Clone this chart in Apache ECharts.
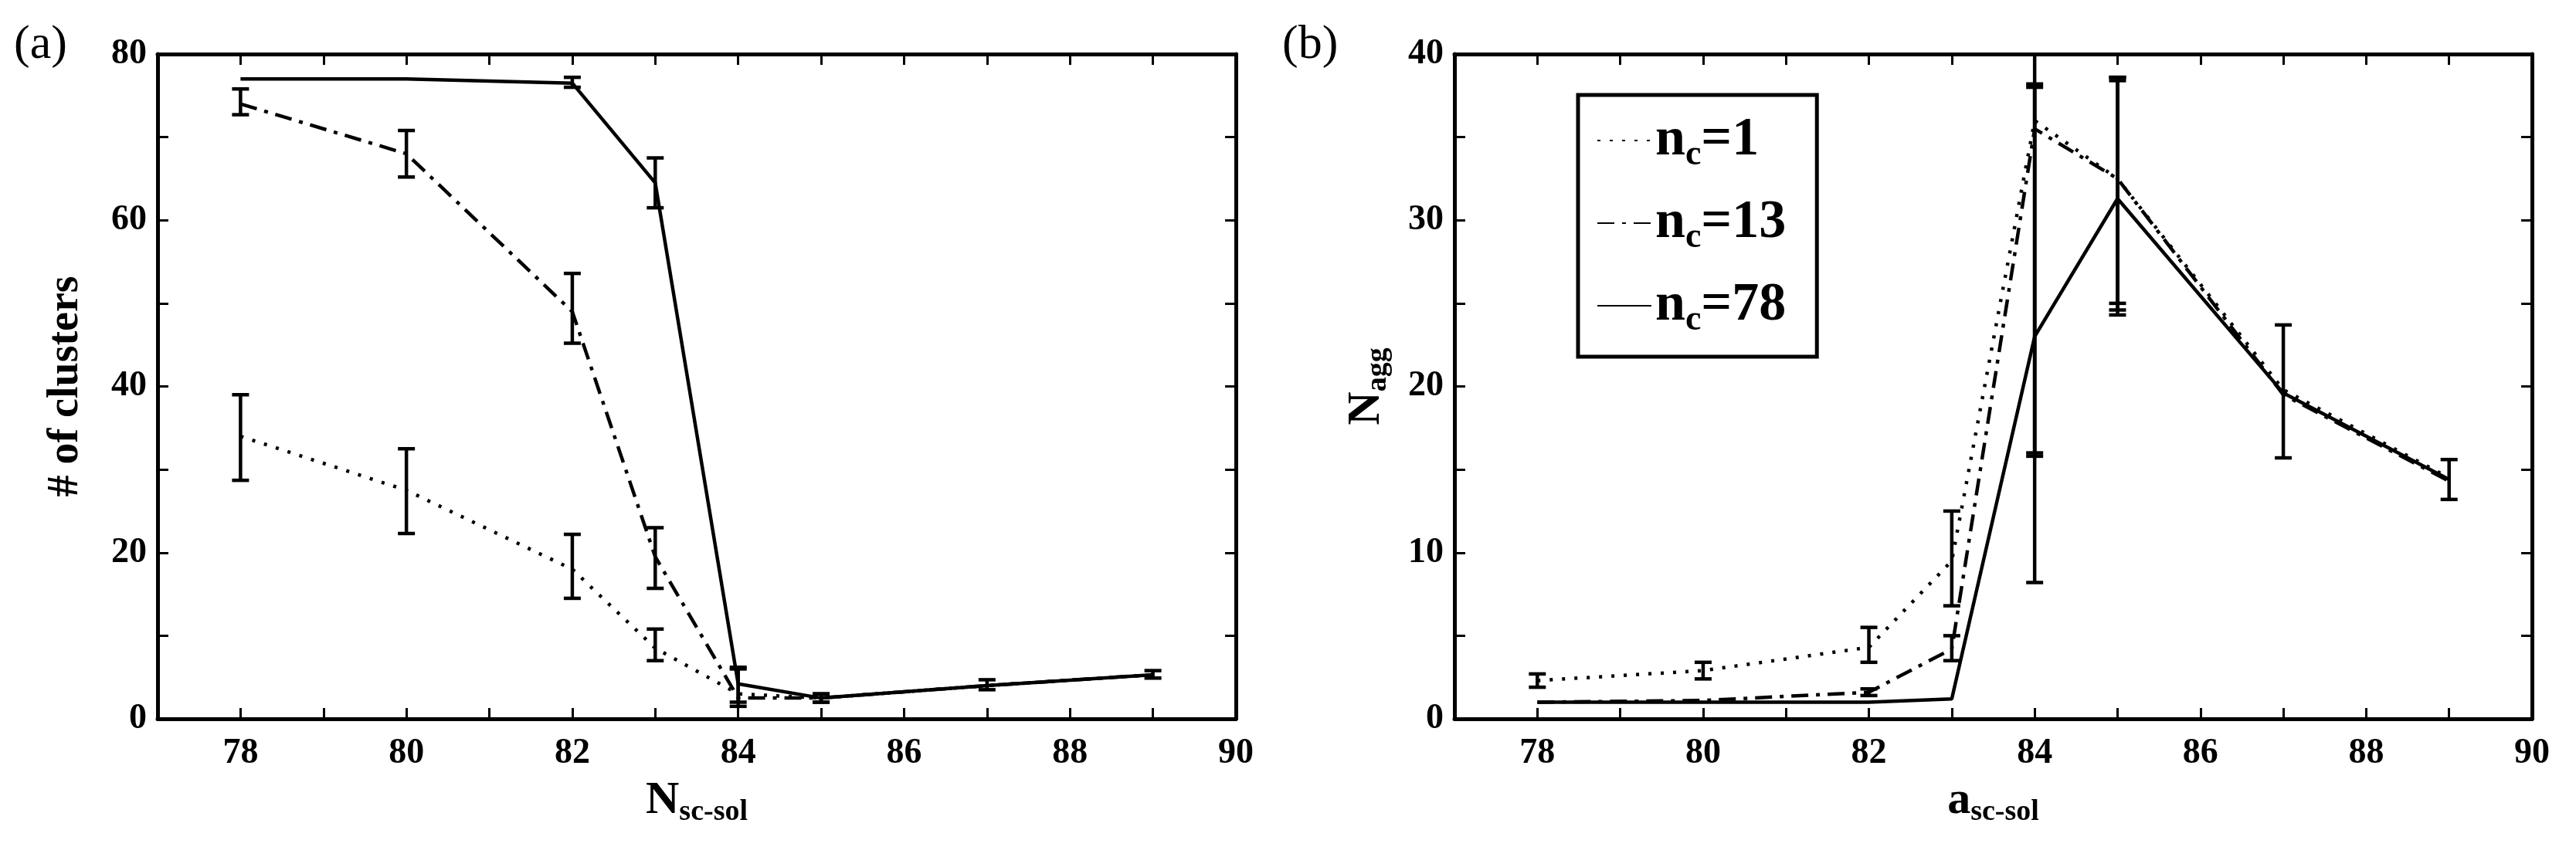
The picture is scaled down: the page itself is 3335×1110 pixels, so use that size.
<!DOCTYPE html><html><head><meta charset="utf-8">
<script src="https://cdn.jsdelivr.net/npm/echarts@6/dist/echarts.min.js"></script>
<style>html,body{margin:0;padding:0;background:#fff}#c{width:3335px;height:1110px}</style></head><body><div id="c"></div>
<script>
const xs = [78, 80, 82, 83, 84, 85, 87, 89];
const xTicks = [78, 80, 82, 84, 86, 88, 90];
// panel (a): # of clusters
const aN1 = [34, 27.5, 18, 8.5, 3, 2.5, 4, 5.3];
const aN13 = [74, 68, 49, 19.5, 2.5, 2.5, 4, 5.3];
const aN78 = [77, 77, 76.5, 64.5, 4.2, 2.5, 4, 5.3];
const aErrLo = [[28.7, 22.3, 14.5, 7, null, null, null, null],[72.7, 65.2, 45.2, 15.7, 1.5, 2, null, null],[null, null, 76, 61.5, 2, 2, 3.5, 4.9]];
const aErrHi = [[39, 32.5, 22.2, 10.8, null, null, null, null],[75.8, 70.8, 53.6, 23, 6, 3, null, null],[null, null, 77.2, 67.5, 6.2, 3, 4.7, 5.8]];
// panel (b): N_agg
const bN1 = [2.3, 2.9, 4.3, 9.5, 36, 32.5, 19.8, 14.5];
const bN13 = [1, 1.1, 1.6, 4.2, 35.5, 32.5, 19.5, 14.3];
const bN78 = [1, 1, 1, 1.2, 23, 31.3, 19.6, 14.4];
const bErrLo = [[1.9, 2.4, 3.4, 6.8, 15.8, 25, null, null],[null, null, 1.4, 3.5, 16, 24.6, null, null],[null, null, null, null, 8.2, 24.3, 15.7, 13.2]];
const bErrHi = [[2.7, 3.4, 5.5, 12.5, 38, 38.6, null, null],[null, null, 1.8, 5, 38.2, 38.6, null, null],[null, null, null, null, 40, 38.4, 23.7, 15.6]];
const names = ['n=1', 'n=13', 'n=78'];
const legendText = ['{b|n}{s|c}{b|=1}', '{b|n}{s|c}{b|=13}', '{b|n}{s|c}{b|=78}'];
const styles = [[4, 12], [22, 10, 5, 10], 'solid'];

const F = 'Liberation Serif';
const chart = echarts.init(document.getElementById('c'));
function xa(gi, top) {
  return {type: 'value', gridIndex: gi, min: 77, max: 90, interval: 1, position: top ? 'top' : 'bottom',
    axisLine: {onZero: false, lineStyle: {color: '#000', width: 5}},
    axisTick: {inside: true, length: 14, lineStyle: {width: 3, color: '#000'}},
    axisLabel: {show: !top, margin: 22, fontFamily: F, fontWeight: 'bold', fontSize: 46, color: '#000',
      formatter: v => xTicks.includes(v) ? String(v) : ''},
    splitLine: {show: false}};
}
function ya(gi, max, right) {
  return {type: 'value', gridIndex: gi, min: 0, max: max, interval: max / 8, position: right ? 'right' : 'left',
    axisLine: {lineStyle: {color: '#000', width: 5}},
    axisTick: {inside: true, length: 14, lineStyle: {width: 3, color: '#000'}},
    axisLabel: {show: !right, margin: 14, fontFamily: F, fontWeight: 'bold', fontSize: 46, color: '#000',
      formatter: v => (v % (max / 4) === 0) ? String(v) : ''},
    splitLine: {show: false}};
}
const xAxes = [xa(0), xa(0, true), xa(1), xa(1, true)];
xAxes[0].name = '{b|N}{s|sc-sol}'; xAxes[2].name = '{b|a}{s|sc-sol}';
[0, 2].forEach(i => Object.assign(xAxes[i], {nameLocation: 'middle', nameGap: 72,
  nameTextStyle: {rich: {b: {fontFamily: F, fontWeight: 'bold', fontSize: 60, color: '#000'}, s: {fontFamily: F, fontWeight: 'bold', fontSize: 38, color: '#000', padding: [30, 0, 0, 0]}}}}));
const yAxes = [ya(0, 80), ya(0, 80, true), ya(1, 40), ya(1, 40, true)];
Object.assign(yAxes[0], {name: '# of clusters', nameLocation: 'middle', nameGap: 90,
  nameTextStyle: {fontFamily: F, fontWeight: 'bold', fontSize: 56, color: '#000'}});
Object.assign(yAxes[2], {name: '{b|N}{s|agg}', nameLocation: 'middle', nameGap: 80,
  nameTextStyle: {rich: {b: {fontFamily: F, fontWeight: 'bold', fontSize: 60, color: '#000'}, s: {fontFamily: F, fontWeight: 'bold', fontSize: 38, color: '#000', padding: [30, 0, 0, 0]}}}});

function errSeries(gi, lo, hi) {
  const data = [];
  xs.forEach((x, i) => { if (lo[i] != null) data.push([x, lo[i], hi[i]]); });
  return {type: 'custom', xAxisIndex: gi * 2, yAxisIndex: gi * 2, clip: true, data: data, z: 3,
    renderItem: (p, api) => {
      const a = api.coord([api.value(0), api.value(1)]), b = api.coord([api.value(0), api.value(2)]);
      const st = {stroke: '#000', lineWidth: 4.5};
      return {type: 'group', children: [
        {type: 'line', shape: {x1: a[0], y1: a[1], x2: b[0], y2: b[1]}, style: st},
        {type: 'line', shape: {x1: a[0] - 11, y1: a[1], x2: a[0] + 11, y2: a[1]}, style: st},
        {type: 'line', shape: {x1: b[0] - 11, y1: b[1], x2: b[0] + 11, y2: b[1]}, style: st}]};
    }};
}
function lineSeries(gi, vals, k) {
  return {type: 'line', name: names[k], xAxisIndex: gi * 2, yAxisIndex: gi * 2, symbol: 'none',
    itemStyle: {color: '#000'},
    data: xs.map((x, i) => [x, vals[i]]), lineStyle: {color: '#000', width: 4.5, type: styles[k]}, z: 4};
}
const series = [];
[aN1, aN13, aN78].forEach((v, k) => series.push(lineSeries(0, v, k)));
[bN1, bN13, bN78].forEach((v, k) => series.push(lineSeries(1, v, k)));
for (let k = 0; k < 3; k++) { series.push(errSeries(0, aErrLo[k], aErrHi[k])); series.push(errSeries(1, bErrLo[k], bErrHi[k])); }

chart.setOption({
  animation: false, backgroundColor: '#fff',
  grid: [{left: 204, right: 1735, top: 70, bottom: 179}, {left: 1883, right: 57, top: 70, bottom: 179}],
  xAxis: xAxes, yAxis: yAxes, series: series,
  legend: {data: names, orient: 'vertical', left: 2043, top: 123, itemWidth: 70, itemHeight: 20, itemGap: 30,
    padding: [24, 40, 24, 24], borderColor: '#000', borderWidth: 5, backgroundColor: '#fff',
    itemStyle: {opacity: 0},
    formatter: n => legendText[names.indexOf(n)],
    textStyle: {rich: {b: {fontFamily: F, fontWeight: 'bold', fontSize: 70, color: '#000'}, s: {fontFamily: F, fontWeight: 'bold', fontSize: 46, color: '#000', padding: [38, 0, 0, 0]}}}},
  graphic: [
    {type: 'text', left: 18, top: 28, style: {text: '(a)', fontFamily: F, fontSize: 62, fill: '#000'}},
    {type: 'text', left: 1660, top: 28, style: {text: '(b)', fontFamily: F, fontSize: 62, fill: '#000'}}]
});
</script></body></html>
